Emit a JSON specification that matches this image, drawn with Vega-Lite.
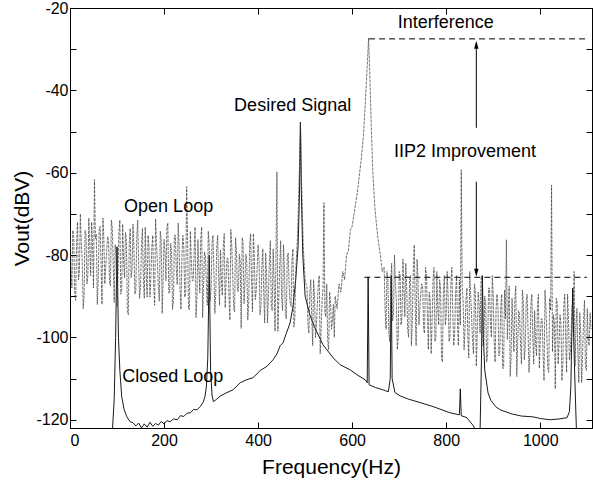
{
"$schema": "https://vega.github.io/schema/vega-lite/v6.json",
"width": 522, "height": 420,
"autosize": "none",
"padding": {"left": 70, "top": 8, "right": 1, "bottom": 64},
"background": "white",
"config": {
  "view": {"stroke": "black", "strokeWidth": 1},
  "font": "Liberation Sans",
  "axis": {"domainColor": "black", "tickColor": "black", "labelColor": "black", "titleColor": "black", "labelFont": "Liberation Sans", "titleFont": "Liberation Sans", "labelFontSize": 16, "titleFontSize": 21, "titleFontWeight": "normal", "grid": false, "tickSize": -6, "domainWidth": 1, "tickWidth": 1}
},
"datasets": {
  "open": [
{"f":0,"v":-73},{"f":4,"v":-88},{"f":8,"v":-76},{"f":12,"v":-91},{"f":16,"v":-72},{"f":20,"v":-84},{"f":24,"v":-77},{"f":28,"v":-93},{"f":32,"v":-74},{"f":36,"v":-87},{"f":40,"v":-71},{"f":44,"v":-85},{"f":48,"v":-78},{"f":52,"v":-61.7},{"f":56,"v":-75},{"f":60,"v":-86},{"f":64,"v":-73},{"f":68,"v":-92},{"f":72,"v":-76},{"f":76,"v":-83},
{"f":80,"v":-75.5},{"f":84,"v":-86.5},{"f":88,"v":-71.5},{"f":92,"v":-82.5},{"f":96,"v":-77.5},{"f":100,"v":-92.5},{"f":104,"v":-74.5},{"f":108,"v":-89.5},{"f":112,"v":-72.5},{"f":116,"v":-85.5},{"f":120,"v":-76.5},{"f":124,"v":-94.5},{"f":128,"v":-73.5},{"f":132,"v":-83.5},{"f":136,"v":-78.5},{"f":140,"v":-88.5},{"f":144,"v":-71.5},{"f":148,"v":-90.5},{"f":152,"v":-77.5},{"f":156,"v":-85.5},
{"f":160,"v":-73.2},{"f":164,"v":-90.2},{"f":168,"v":-78.2},{"f":172,"v":-85.2},{"f":176,"v":-75.2},{"f":180,"v":-92.2},{"f":184,"v":-77.2},{"f":188,"v":-88.2},{"f":192,"v":-74.2},{"f":196,"v":-94.2},{"f":200,"v":-76.2},{"f":204,"v":-86.2},{"f":208,"v":-72.2},{"f":212,"v":-89.2},{"f":216,"v":-79.2},{"f":220,"v":-91.2},{"f":224,"v":-75.2},{"f":228,"v":-87.2},{"f":232,"v":-77.2},{"f":236,"v":-93.2},
{"f":240,"v":-75.2},{"f":244,"v":-90.2},{"f":248,"v":-63.4},{"f":252,"v":-93.2},{"f":256,"v":-74.2},{"f":260,"v":-86.2},{"f":264,"v":-79.2},{"f":268,"v":-95.2},{"f":272,"v":-76.2},{"f":276,"v":-89.2},{"f":280,"v":-73.2},{"f":284,"v":-87.2},{"f":288,"v":-80.2},{"f":292,"v":-92.2},{"f":296,"v":-77.2},{"f":300,"v":-88.2},{"f":304,"v":-75.2},{"f":308,"v":-94.2},{"f":312,"v":-78.2},{"f":316,"v":-85.2},
{"f":320,"v":-78.8},{"f":324,"v":-89.8},{"f":328,"v":-74.8},{"f":332,"v":-85.8},{"f":336,"v":-80.8},{"f":340,"v":-95.8},{"f":344,"v":-77.8},{"f":348,"v":-92.8},{"f":352,"v":-75.8},{"f":356,"v":-88.8},{"f":360,"v":-79.8},{"f":364,"v":-97.8},{"f":368,"v":-76.8},{"f":372,"v":-86.8},{"f":376,"v":-81.8},{"f":380,"v":-91.8},{"f":384,"v":-74.8},{"f":388,"v":-93.8},{"f":392,"v":-80.8},{"f":396,"v":-88.8},
{"f":400,"v":-77.5},{"f":404,"v":-94.5},{"f":408,"v":-82.5},{"f":412,"v":-89.5},{"f":416,"v":-79.5},{"f":420,"v":-96.5},{"f":424,"v":-81.5},{"f":428,"v":-92.5},{"f":432,"v":-78.5},{"f":436,"v":-98.5},{"f":440,"v":-59.8},{"f":444,"v":-90.5},{"f":448,"v":-76.5},{"f":452,"v":-93.5},{"f":456,"v":-83.5},{"f":460,"v":-95.5},{"f":464,"v":-79.5},{"f":468,"v":-91.5},{"f":472,"v":-81.5},{"f":476,"v":-97.5},
{"f":480,"v":-84},{"f":484,"v":-75},{"f":488,"v":-58},{"f":490,"v":-47.7},{"f":492,"v":-60},{"f":496,"v":-78},{"f":500,"v":-86},
{"f":504,"v":-88},{"f":508,"v":-99},{"f":512,"v":-86},{"f":516,"v":-102},{"f":520,"v":-90},{"f":524,"v":-97},{"f":528,"v":-87},{"f":532,"v":-104},{"f":536,"v":-91},{"f":540,"v":-67.3},{"f":544,"v":-95},{"f":548,"v":-101},{"f":552,"v":-89},{"f":556,"v":-98},{"f":560,"v":-92},
{"f":564,"v":-90},{"f":568,"v":-93},{"f":572,"v":-87},{"f":576,"v":-89},{"f":580,"v":-84},{"f":584,"v":-86},{"f":588,"v":-80},{"f":592,"v":-79},{"f":596,"v":-74},{"f":600,"v":-73},{"f":604,"v":-70},{"f":608,"v":-67},{"f":612,"v":-64},{"f":616,"v":-60},{"f":620,"v":-56},{"f":624,"v":-51},{"f":628,"v":-43},{"f":632,"v":-34},{"f":635,"v":-27.3},{"f":638,"v":-38},{"f":641,"v":-50},{"f":644,"v":-60},{"f":648,"v":-68},{"f":652,"v":-73},{"f":656,"v":-77},{"f":660,"v":-80},{"f":664,"v":-84},
{"f":668,"v":-83},{"f":672,"v":-98},{"f":676,"v":-86},{"f":680,"v":-101},{"f":684,"v":-82},{"f":688,"v":-94},{"f":692,"v":-87},{"f":696,"v":-103},{"f":700,"v":-84},{"f":704,"v":-97},{"f":708,"v":-81},{"f":712,"v":-95},{"f":716,"v":-88},{"f":720,"v":-100},{"f":724,"v":-85},{"f":728,"v":-96},{"f":732,"v":-77.5},{"f":736,"v":-102},{"f":740,"v":-86},{"f":744,"v":-93},
{"f":748,"v":-87},{"f":752,"v":-98},{"f":756,"v":-83},{"f":760,"v":-94},{"f":764,"v":-89},{"f":768,"v":-104},{"f":772,"v":-86},{"f":776,"v":-101},{"f":780,"v":-84},{"f":784,"v":-97},{"f":788,"v":-88},{"f":792,"v":-106},{"f":796,"v":-85},{"f":800,"v":-95},{"f":804,"v":-90},{"f":808,"v":-100},{"f":812,"v":-83},{"f":816,"v":-102},{"f":820,"v":-89},{"f":824,"v":-97},
{"f":828,"v":-86},{"f":832,"v":-59.3},{"f":836,"v":-91},{"f":840,"v":-98},{"f":844,"v":-88},{"f":848,"v":-105},{"f":852,"v":-90},{"f":856,"v":-101},{"f":860,"v":-87},{"f":864,"v":-107},{"f":868,"v":-89},{"f":872,"v":-99},{"f":876,"v":-85},{"f":880,"v":-102},{"f":884,"v":-92},{"f":888,"v":-104},{"f":892,"v":-88},{"f":896,"v":-100},{"f":900,"v":-90},{"f":904,"v":-106},
{"f":908,"v":-89.5},{"f":912,"v":-104.5},{"f":916,"v":-92.5},{"f":920,"v":-107.5},{"f":924,"v":-88.5},{"f":928,"v":-76.3},{"f":932,"v":-93.5},{"f":936,"v":-109.5},{"f":940,"v":-90.5},{"f":944,"v":-103.5},{"f":948,"v":-87.5},{"f":952,"v":-101.5},{"f":956,"v":-94.5},{"f":960,"v":-106.5},{"f":964,"v":-91.5},{"f":968,"v":-102.5},{"f":972,"v":-89.5},{"f":976,"v":-108.5},{"f":980,"v":-92.5},{"f":984,"v":-99.5},
{"f":988,"v":-93.5},{"f":992,"v":-104.5},{"f":996,"v":-89.5},{"f":1000,"v":-100.5},{"f":1004,"v":-95.5},{"f":1008,"v":-110.5},{"f":1012,"v":-92.5},{"f":1016,"v":-107.5},{"f":1020,"v":-90.5},{"f":1024,"v":-63},{"f":1028,"v":-94.5},{"f":1032,"v":-112.5},{"f":1036,"v":-91.5},{"f":1040,"v":-101.5},{"f":1044,"v":-96.5},{"f":1048,"v":-106.5},{"f":1052,"v":-89.5},{"f":1056,"v":-108.5},{"f":1060,"v":-95.5},{"f":1064,"v":-103.5},
{"f":1068,"v":-92},{"f":1072,"v":-84},{"f":1076,"v":-97},{"f":1080,"v":-104},{"f":1084,"v":-94},{"f":1088,"v":-111},{"f":1092,"v":-96},{"f":1096,"v":-107},{"f":1100,"v":-93},{"f":1104,"v":-102},{"f":1108,"v":-98},
{"f":2,"v":-83},{"f":6,"v":-74},{"f":10,"v":-89},{"f":14,"v":-77},{"f":18,"v":-86},{"f":22,"v":-70},{"f":26,"v":-81},{"f":30,"v":-90},{"f":34,"v":-75},{"f":38,"v":-85},{"f":42,"v":-78},{"f":46,"v":-72},{"f":50,"v":-88},{"f":54,"v":-76},{"f":58,"v":-92},{"f":62,"v":-74},{"f":66,"v":-82},{"f":70,"v":-71},{"f":74,"v":-87},{"f":78,"v":-79},
{"f":82,"v":-76.5},{"f":86,"v":-87.5},{"f":90,"v":-73.5},{"f":94,"v":-91.5},{"f":98,"v":-79.5},{"f":102,"v":-84.5},{"f":106,"v":-71.5},{"f":110,"v":-88.5},{"f":114,"v":-81.5},{"f":118,"v":-74.5},{"f":122,"v":-93.5},{"f":126,"v":-77.5},{"f":130,"v":-85.5},{"f":134,"v":-72.5},{"f":138,"v":-89.5},{"f":142,"v":-75.5},{"f":146,"v":-82.5},{"f":150,"v":-87.5},{"f":154,"v":-73.5},{"f":158,"v":-90.5},
{"f":162,"v":-84.2},{"f":166,"v":-75.2},{"f":170,"v":-90.2},{"f":174,"v":-78.2},{"f":178,"v":-87.2},{"f":182,"v":-71.2},{"f":186,"v":-82.2},{"f":190,"v":-91.2},{"f":194,"v":-76.2},{"f":198,"v":-86.2},{"f":202,"v":-79.2},{"f":206,"v":-73.2},{"f":210,"v":-89.2},{"f":214,"v":-77.2},{"f":218,"v":-93.2},{"f":222,"v":-75.2},{"f":226,"v":-83.2},{"f":230,"v":-72.2},{"f":234,"v":-88.2},{"f":238,"v":-80.2},
{"f":242,"v":-78.2},{"f":246,"v":-89.2},{"f":250,"v":-75.2},{"f":254,"v":-93.2},{"f":258,"v":-81.2},{"f":262,"v":-86.2},{"f":266,"v":-73.2},{"f":270,"v":-90.2},{"f":274,"v":-83.2},{"f":278,"v":-76.2},{"f":282,"v":-95.2},{"f":286,"v":-79.2},{"f":290,"v":-87.2},{"f":294,"v":-74.2},{"f":298,"v":-91.2},{"f":302,"v":-77.2},{"f":306,"v":-84.2},{"f":310,"v":-89.2},{"f":314,"v":-75.2},{"f":318,"v":-92.2},
{"f":322,"v":-86.8},{"f":326,"v":-77.8},{"f":330,"v":-92.8},{"f":334,"v":-80.8},{"f":338,"v":-89.8},{"f":342,"v":-73.8},{"f":346,"v":-84.8},{"f":350,"v":-93.8},{"f":354,"v":-78.8},{"f":358,"v":-88.8},{"f":362,"v":-81.8},{"f":366,"v":-75.8},{"f":370,"v":-91.8},{"f":374,"v":-79.8},{"f":378,"v":-95.8},{"f":382,"v":-77.8},{"f":386,"v":-85.8},{"f":390,"v":-74.8},{"f":394,"v":-90.8},{"f":398,"v":-82.8},
{"f":402,"v":-81.5},{"f":406,"v":-92.5},{"f":410,"v":-78.5},{"f":414,"v":-96.5},{"f":418,"v":-84.5},{"f":422,"v":-89.5},{"f":426,"v":-76.5},{"f":430,"v":-93.5},{"f":434,"v":-86.5},{"f":438,"v":-79.5},{"f":442,"v":-98.5},{"f":446,"v":-82.5},{"f":450,"v":-90.5},{"f":454,"v":-77.5},{"f":458,"v":-94.5},{"f":462,"v":-80.5},{"f":466,"v":-87.5},{"f":470,"v":-92.5},{"f":474,"v":-78.5},{"f":478,"v":-95.5},
{"f":506,"v":-97},{"f":510,"v":-89},{"f":514,"v":-95},{"f":518,"v":-86},{"f":522,"v":-100},{"f":526,"v":-92},{"f":530,"v":-85},{"f":534,"v":-98},{"f":538,"v":-88},{"f":542,"v":-94},{"f":546,"v":-87},{"f":550,"v":-103},{"f":554,"v":-91},{"f":558,"v":-96},{"f":562,"v":-100},
{"f":670,"v":-93},{"f":674,"v":-84},{"f":678,"v":-99},{"f":682,"v":-87},{"f":686,"v":-96},{"f":690,"v":-80},{"f":694,"v":-91},{"f":698,"v":-100},{"f":702,"v":-85},{"f":706,"v":-95},{"f":710,"v":-88},{"f":714,"v":-82},{"f":718,"v":-98},{"f":722,"v":-86},{"f":726,"v":-102},{"f":730,"v":-84},{"f":734,"v":-92},{"f":738,"v":-81},{"f":742,"v":-97},{"f":746,"v":-89},
{"f":750,"v":-88},{"f":754,"v":-99},{"f":758,"v":-85},{"f":762,"v":-103},{"f":766,"v":-91},{"f":770,"v":-96},{"f":774,"v":-83},{"f":778,"v":-100},{"f":782,"v":-93},{"f":786,"v":-86},{"f":790,"v":-105},{"f":794,"v":-89},{"f":798,"v":-97},{"f":802,"v":-84},{"f":806,"v":-101},{"f":810,"v":-87},{"f":814,"v":-94},{"f":818,"v":-99},{"f":822,"v":-85},{"f":826,"v":-102},
{"f":830,"v":-97},{"f":834,"v":-88},{"f":838,"v":-103},{"f":842,"v":-91},{"f":846,"v":-100},{"f":850,"v":-84},{"f":854,"v":-95},{"f":858,"v":-104},{"f":862,"v":-89},{"f":866,"v":-99},{"f":870,"v":-92},{"f":874,"v":-86},{"f":878,"v":-102},{"f":882,"v":-90},{"f":886,"v":-106},{"f":890,"v":-88},{"f":894,"v":-96},{"f":898,"v":-85},{"f":902,"v":-101},{"f":906,"v":-93},
{"f":910,"v":-92.5},{"f":914,"v":-103.5},{"f":918,"v":-89.5},{"f":922,"v":-107.5},{"f":926,"v":-95.5},{"f":930,"v":-100.5},{"f":934,"v":-87.5},{"f":938,"v":-104.5},{"f":942,"v":-97.5},{"f":946,"v":-90.5},{"f":950,"v":-109.5},{"f":954,"v":-93.5},{"f":958,"v":-101.5},{"f":962,"v":-88.5},{"f":966,"v":-105.5},{"f":970,"v":-91.5},{"f":974,"v":-98.5},{"f":978,"v":-103.5},{"f":982,"v":-89.5},{"f":986,"v":-106.5},
{"f":990,"v":-101.5},{"f":994,"v":-92.5},{"f":998,"v":-107.5},{"f":1002,"v":-95.5},{"f":1006,"v":-104.5},{"f":1010,"v":-88.5},{"f":1014,"v":-99.5},{"f":1018,"v":-108.5},{"f":1022,"v":-93.5},{"f":1026,"v":-103.5},{"f":1030,"v":-96.5},{"f":1034,"v":-90.5},{"f":1038,"v":-106.5},{"f":1042,"v":-94.5},{"f":1046,"v":-110.5},{"f":1050,"v":-92.5},{"f":1054,"v":-100.5},{"f":1058,"v":-89.5},{"f":1062,"v":-105.5},{"f":1066,"v":-97.5},
{"f":1070,"v":-96},{"f":1074,"v":-107},{"f":1078,"v":-93},{"f":1082,"v":-111},{"f":1086,"v":-99},{"f":1090,"v":-104},{"f":1094,"v":-91},{"f":1098,"v":-108},{"f":1102,"v":-101},{"f":1106,"v":-94}
  ],
  "closed": [
{"f":90,"v":-123},{"f":94,"v":-115},{"f":97,"v":-100},{"f":99,"v":-85},{"f":100,"v":-78},{"f":101,"v":-85},{"f":103,"v":-100},{"f":106,"v":-108},{"f":110,"v":-114.4},{"f":115,"v":-117.5},{"f":121,"v":-119.3},{"f":128,"v":-120.5},{"f":134,"v":-120.7},{"f":140,"v":-121.5},{"f":146,"v":-120.8},{"f":152,"v":-122},{"f":158,"v":-121},{"f":164,"v":-121.8},{"f":170,"v":-120.6},{"f":176,"v":-121.6},{"f":182,"v":-120.9},{"f":188,"v":-121.3},{"f":194,"v":-120.4},{"f":200,"v":-121},{"f":206,"v":-120.2},{"f":213,"v":-120.5},{"f":220,"v":-119.8},{"f":228,"v":-120},{"f":235,"v":-119},{"f":242,"v":-119.2},{"f":249,"v":-118.4},{"f":256,"v":-118.3},{"f":263,"v":-117.5},{"f":270,"v":-117.6},{"f":277,"v":-116.8},{"f":283,"v":-115.8},{"f":287,"v":-114.4},{"f":290,"v":-112},{"f":293,"v":-105},{"f":295,"v":-90},{"f":296,"v":-80},{"f":297,"v":-90},{"f":299,"v":-108},{"f":302,"v":-114},{"f":305,"v":-115.6},{"f":312,"v":-115},{"f":320,"v":-114.2},{"f":330,"v":-113.6},{"f":347,"v":-112.7},{"f":362,"v":-111},{"f":375,"v":-110.3},{"f":389,"v":-109.8},{"f":405,"v":-108},{"f":419,"v":-107},{"f":432,"v":-105.4},{"f":440,"v":-104},{"f":447,"v":-102},{"f":453,"v":-101.3},{"f":460,"v":-99},{"f":468,"v":-96.5},{"f":474,"v":-92.6},{"f":480,"v":-86},{"f":485,"v":-78},{"f":488,"v":-65},{"f":490,"v":-47.7},{"f":492,"v":-65},{"f":495,"v":-80},{"f":500,"v":-90},{"f":510,"v":-94.5},{"f":520,"v":-97.5},{"f":538,"v":-101.8},{"f":560,"v":-105},{"f":574,"v":-106.6},{"f":596,"v":-107.9},{"f":612,"v":-109.2},{"f":628,"v":-110.3},{"f":632,"v":-111},{"f":634,"v":-85.3},{"f":636,"v":-111.5},{"f":650,"v":-112.2},{"f":665,"v":-112.7},{"f":677,"v":-113.2},{"f":681,"v":-110},{"f":683,"v":-85},{"f":685,"v":-110},{"f":691,"v":-113.4},{"f":702,"v":-114.2},{"f":720,"v":-115},{"f":738,"v":-115.6},{"f":772,"v":-116.8},{"f":808,"v":-118.3},{"f":828,"v":-118.8},{"f":830,"v":-112.5},{"f":832,"v":-119},{"f":844,"v":-119.5},{"f":851,"v":-120.5},{"f":858,"v":-121.5},{"f":864,"v":-123},{"f":872,"v":-123},{"f":875,"v":-105},{"f":877,"v":-85},{"f":879,"v":-100},{"f":882,"v":-108},{"f":889,"v":-113.5},{"f":895,"v":-115.3},{"f":905,"v":-116.8},{"f":915,"v":-117.6},{"f":940,"v":-118.6},{"f":960,"v":-119.1},{"f":985,"v":-119.3},{"f":1000,"v":-119.7},{"f":1021,"v":-120},{"f":1040,"v":-119.8},{"f":1057,"v":-119.5},{"f":1062,"v":-118},{"f":1065,"v":-112},{"f":1067,"v":-100},{"f":1069,"v":-88},{"f":1071,"v":-100},{"f":1074,"v":-112},{"f":1077,"v":-123}
  ],
  "refs": [{"f":636,"f2":1099,"v":-27.5},{"f":626,"f2":1099,"v":-85.4}],
  "shafts": [{"f":864,"v":-28.5,"v2":-49.1},{"f":864,"v":-62.2,"v2":-84}],
  "headsUp": [{"f":864,"v":-28.9}],
  "headsDown": [{"f":864,"v":-84.3}],
  "labels": [
    {"f":697,"v":-24.9,"t":"Interference"},
    {"f":349,"v":-45.0,"t":"Desired Signal"},
    {"f":689,"v":-56.2,"t":"IIP2 Improvement"},
    {"f":115,"v":-69.5,"t":"Open Loop"},
    {"f":111,"v":-110.8,"t":"Closed Loop"}
  ]
},
"resolve": {"axis": {"x": "independent", "y": "independent"}},
"layer": [
  {
    "data": {"name": "closed"},
    "mark": {"type": "line", "color": "black", "strokeWidth": 0.9, "clip": true},
    "encoding": {
      "x": {"field": "f", "type": "quantitative", "scale": {"domain": [0, 1110], "nice": false, "zero": false},
            "axis": {"orient": "top", "values": [0, 200, 400, 600, 800, 1000], "labels": false, "title": null}},
      "y": {"field": "v", "type": "quantitative", "scale": {"domain": [-122, -20], "nice": false, "zero": false},
            "axis": {"orient": "right", "values": [-120, -110, -100, -90, -80, -70, -60, -50, -40, -30, -20], "labels": false, "title": null}}
    }
  },
  {
    "data": {"name": "open"},
    "mark": {"type": "line", "color": "#3a3a3a", "strokeWidth": 0.7, "strokeDash": [3, 1], "clip": true},
    "encoding": {
      "x": {"field": "f", "type": "quantitative", "scale": {"domain": [0, 1110], "nice": false, "zero": false},
            "axis": {"orient": "bottom", "values": [0, 200, 400, 600, 800, 1000], "labelExpr": "'' + datum.value", "title": "Frequency(Hz)", "labelPadding": 10, "titlePadding": 8}},
      "y": {"field": "v", "type": "quantitative", "scale": {"domain": [-122, -20], "nice": false, "zero": false},
            "axis": {"orient": "left", "values": [-120, -110, -100, -90, -80, -70, -60, -50, -40, -30, -20], "labelExpr": "datum.value % 20 == 0 ? '' + datum.value : ''", "title": "Vout(dBV)", "labelPadding": 8, "titleX": -38, "titleY": 210}}
    }
  },
  {
    "data": {"name": "refs"},
    "mark": {"type": "rule", "color": "black", "strokeWidth": 1, "strokeDash": [6, 4]},
    "encoding": {
      "x": {"field": "f", "type": "quantitative", "axis": null},
      "x2": {"field": "f2"},
      "y": {"field": "v", "type": "quantitative", "axis": null}
    }
  },
  {
    "data": {"name": "shafts"},
    "mark": {"type": "rule", "color": "black", "strokeWidth": 1},
    "encoding": {
      "x": {"field": "f", "type": "quantitative", "axis": null},
      "y": {"field": "v", "type": "quantitative", "axis": null},
      "y2": {"field": "v2"}
    }
  },
  {
    "data": {"name": "headsUp"},
    "mark": {"type": "point", "shape": "M0,-1L0.55,1L-0.55,1Z", "filled": true, "color": "black", "size": 64, "opacity": 1},
    "encoding": {
      "x": {"field": "f", "type": "quantitative", "axis": null},
      "y": {"field": "v", "type": "quantitative", "axis": null}
    }
  },
  {
    "data": {"name": "headsDown"},
    "mark": {"type": "point", "shape": "M0,1L0.55,-1L-0.55,-1Z", "filled": true, "color": "black", "size": 64, "opacity": 1},
    "encoding": {
      "x": {"field": "f", "type": "quantitative", "axis": null},
      "y": {"field": "v", "type": "quantitative", "axis": null}
    }
  },
  {
    "data": {"name": "labels"},
    "mark": {"type": "text", "align": "left", "baseline": "alphabetic", "font": "Liberation Sans", "fontSize": 18, "color": "black"},
    "encoding": {
      "x": {"field": "f", "type": "quantitative", "axis": null},
      "y": {"field": "v", "type": "quantitative", "axis": null},
      "text": {"field": "t"}
    }
  }
]
}
